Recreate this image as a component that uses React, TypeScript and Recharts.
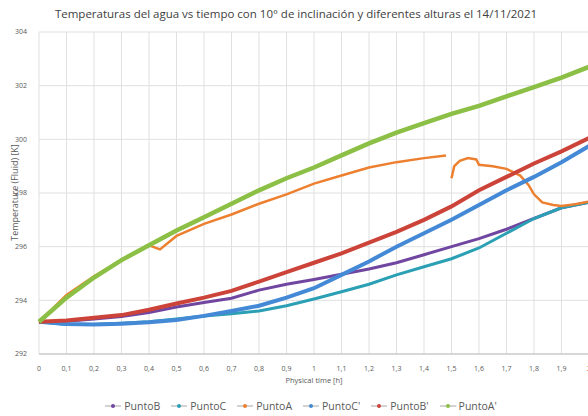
import { LineChart, Line, XAxis, YAxis, CartesianGrid } from "recharts";

// tiempo [h] común a casi todas las series
const TIME = [0, 0.1, 0.2, 0.3, 0.4, 0.5, 0.6, 0.7, 0.8, 0.9, 1, 1.1, 1.2, 1.3, 1.4, 1.5, 1.6, 1.7, 1.8, 1.9, 2];

const PUNTO_B = [293.2, 293.22, 293.3, 293.4, 293.55, 293.75, 293.92, 294.08, 294.38, 294.6, 294.78, 294.97, 295.17, 295.4, 295.7, 296.0, 296.3, 296.65, 297.05, 297.45, 297.65];
const PUNTO_C = [293.2, 293.1, 293.1, 293.15, 293.2, 293.3, 293.42, 293.5, 293.6, 293.8, 294.05, 294.32, 294.6, 294.95, 295.25, 295.55, 295.95, 296.5, 297.05, 297.45, 297.65];
const PUNTO_C2 = [293.2, 293.12, 293.1, 293.13, 293.18, 293.27, 293.42, 293.6, 293.8, 294.1, 294.45, 294.95, 295.45, 296.0, 296.5, 297.0, 297.55, 298.1, 298.6, 299.15, 299.75];
const PUNTO_B2 = [293.2, 293.25, 293.35, 293.45, 293.65, 293.88, 294.1, 294.35, 294.7, 295.05, 295.4, 295.75, 296.15, 296.55, 297.0, 297.5, 298.1, 298.6, 299.1, 299.55, 300.05];
const PUNTO_A2 = [293.2, 294.1, 294.85, 295.5, 296.05, 296.6, 297.1, 297.6, 298.1, 298.55, 298.95, 299.4, 299.85, 300.25, 300.6, 300.95, 301.25, 301.6, 301.95, 302.3, 302.7];

// PuntoA tiene su propio muestreo (corte cerca de 1,49 h)
const PUNTO_A_TIME = [0, 0.1, 0.2, 0.3, 0.4, 0.44, 0.5, 0.6, 0.7, 0.8, 0.9, 1, 1.1, 1.2, 1.3, 1.4, 1.48, 1.49, 1.5, 1.51, 1.53, 1.56, 1.59, 1.6, 1.65, 1.7, 1.75, 1.78, 1.8, 1.83, 1.87, 1.9, 1.95, 2];
const PUNTO_A = [293.2, 294.2, 294.9, 295.5, 296.05, 295.9, 296.4, 296.85, 297.2, 297.6, 297.95, 298.35, 298.65, 298.95, 299.15, 299.3, 299.4, null, 298.55, 299.0, 299.2, 299.3, 299.25, 299.05, 299.0, 298.9, 298.65, 298.3, 297.95, 297.65, 297.55, 297.52, 297.58, 297.68];

const X_TICKS = [0, 0.1, 0.2, 0.3, 0.4, 0.5, 0.6, 0.7, 0.8, 0.9, 1, 1.1, 1.2, 1.3, 1.4, 1.5, 1.6, 1.7, 1.8, 1.9, 2];
const Y_TICKS = [292, 294, 296, 298, 300, 302, 304];

const rows = (t: number[], v: (number | null)[]) => t.map((x, i) => ({ t: x, v: v[i] }));

const SERIES = [
  { name: "PuntoB", color: "#7046a0", width: 3, data: rows(TIME, PUNTO_B) },
  { name: "PuntoC", color: "#2ba0b5", width: 3, data: rows(TIME, PUNTO_C) },
  { name: "PuntoA", color: "#ec8030", width: 2.5, data: rows(PUNTO_A_TIME, PUNTO_A) },
  { name: "PuntoC'", color: "#4489d6", width: 4, data: rows(TIME, PUNTO_C2) },
  { name: "PuntoB'", color: "#cc4339", width: 4, data: rows(TIME, PUNTO_B2) },
  { name: "PuntoA'", color: "#8cbf45", width: 4.5, data: rows(TIME, PUNTO_A2) },
];

const FONT = "'Open Sans', 'Noto Sans', sans-serif";
const fmt = (v: number) => String(Math.round(v * 10) / 10).replace(".", ",");

const textStyle = { position: "absolute" as const, fontFamily: FONT, color: "#595959", whiteSpace: "nowrap" as const, lineHeight: 1 };

function LegendRow() {
  return (
    <div style={{ ...textStyle, top: 401, left: 0, width: 602, display: "flex", justifyContent: "center", gap: 11, fontSize: 10.5 }}>
      {SERIES.map((s) => (
        <div key={s.name} style={{ display: "flex", alignItems: "center", gap: 3 }}>
          <svg width={16} height={8}>
            <line x1={0} y1={4} x2={16} y2={4} stroke="#a6a6a6" strokeWidth={1} />
            <circle cx={8} cy={4} r={2} fill={s.color} />
          </svg>
          <span>{s.name}</span>
        </div>
      ))}
    </div>
  );
}

export default function App() {
  return (
    <div style={{ position: "fixed", top: 0, left: 0, width: 588, height: 416, overflow: "hidden", background: "#fff" }}>
      <div style={{ ...textStyle, top: 8, left: 0, width: 592, textAlign: "center", fontSize: 11.5, color: "#404040" }}>
        Temperaturas del agua vs tiempo con 10° de inclinación y diferentes alturas el 14/11/2021
      </div>
      <LineChart width={600} height={416} margin={{ top: 32, right: 11, left: 0, bottom: 42 }}>
        <CartesianGrid stroke="#e0e0e0" strokeWidth={1} />
        <XAxis
          type="number"
          dataKey="t"
          domain={[0, 2]}
          ticks={X_TICKS}
          tickFormatter={fmt}
          interval={0}
          height={20}
          axisLine={{ stroke: "#bfbfbf" }}
          tickLine={false}
          tickMargin={6}
          tick={{ fontFamily: FONT, fontSize: 7, fill: "#595959" }}
        />
        <YAxis
          type="number"
          domain={[292, 304]}
          ticks={Y_TICKS}
          width={39}
          axisLine={false}
          tickLine={false}
          tickMargin={6}
          tick={{ fontFamily: FONT, fontSize: 7, fill: "#595959" }}
        />
        {SERIES.map((s) => (
          <Line
            key={s.name}
            data={s.data}
            dataKey="v"
            name={s.name}
            type="linear"
            stroke={s.color}
            strokeWidth={s.width}
            dot={false}
            connectNulls={false}
            isAnimationActive={false}
          />
        ))}
      </LineChart>
      <div style={{ ...textStyle, top: 377, left: 264, width: 100, textAlign: "center", fontSize: 7.5 }}>Physical time [h]</div>
      <div
        style={{
          ...textStyle,
          top: 188,
          left: -36,
          width: 100,
          textAlign: "center",
          fontSize: 9,
          transform: "rotate(-90deg)",
        }}
      >
        Temperature (Fluid) [K]
      </div>
      <LegendRow />
    </div>
  );
}
